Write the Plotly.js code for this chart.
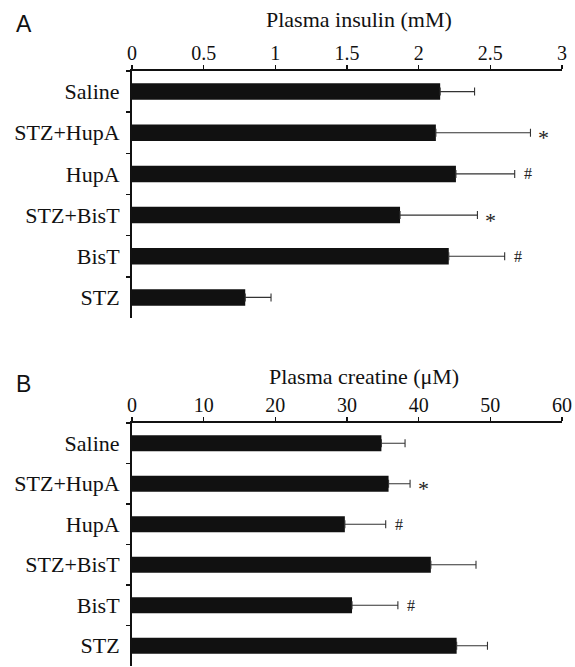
<!DOCTYPE html>
<html>
<head>
<meta charset="utf-8">
<script src="https://cdn.plot.ly/plotly-3.0.1.min.js"></script>
<style>html,body{margin:0;padding:0;background:#fff;}#chart{width:575px;height:667px;}</style>
</head>
<body>
<div id="chart"></div>
<script>
var categories = ['Saline', 'STZ+HupA', 'HupA', 'STZ+BisT', 'BisT', 'STZ'];
var insulin = [2.15, 2.12, 2.26, 1.87, 2.21, 0.79];
var insulinErr = [0.24, 0.66, 0.41, 0.54, 0.39, 0.18];
var insulinMarks = ['', '*', '#', '*', '#', ''];
var creatine = [34.8, 35.8, 29.7, 41.7, 30.7, 45.3];
var creatineErr = [3.3, 3.0, 5.7, 6.3, 6.4, 4.3];
var creatineMarks = ['', '*', '#', '', '#', ''];
var insulinTicks = [0, 0.5, 1, 1.5, 2, 2.5, 3];
var creatineTicks = [0, 10, 20, 30, 40, 50, 60];

var serif = 'Liberation Serif, Times New Roman, serif';
var W = 575, H = 667;
var xDom = [132 / W, 562 / W];

function barTrace(vals, errs, xa, ya) {
  return {
    type: 'bar', orientation: 'h', x: vals, y: categories, xaxis: xa, yaxis: ya,
    width: 0.4, marker: {color: '#111111', line: {width: 0}},
    error_x: {type: 'data', symmetric: false, array: errs, arrayminus: errs.map(function(){return 0;}),
              color: '#333333', thickness: 1.1, width: 4},
    hoverinfo: 'none', showlegend: false
  };
}

function markAnns(vals, errs, marks, xa, ya) {
  var out = [];
  for (var i = 0; i < categories.length; i++) {
    if (!marks[i]) continue;
    var star = marks[i] === '*';
    out.push({
      xref: xa, yref: ya, x: vals[i] + errs[i], y: categories[i],
      text: marks[i], showarrow: false, xanchor: 'center', yanchor: 'middle',
      xshift: 13, yshift: star ? -5 : 0,
      font: {family: serif, size: star ? 22 : 16, color: '#222'}
    });
  }
  return out;
}

function titleAnn(text, x, y) {
  return {xref: 'paper', yref: 'paper', x: x / W, y: 1 - y / H, text: text, showarrow: false,
          xanchor: 'center', yanchor: 'middle', font: {family: serif, size: 22, color: '#111'}};
}

function xAxis(ticks, anchor) {
  return {
    domain: xDom, anchor: anchor, side: 'top', range: [ticks[0], ticks[ticks.length - 1]],
    tickvals: ticks, ticktext: ticks.map(String),
    ticks: 'outside', ticklen: 4, tickwidth: 1.5, tickcolor: '#111',
    showline: true, linewidth: 2, linecolor: '#111', showgrid: false, zeroline: false,
    tickfont: {family: serif, size: 20, color: '#111'}, ticklabelstandoff: -3
  };
}

function yAxis(anchor, dom) {
  return {
    domain: dom, anchor: anchor, type: 'category', categoryorder: 'array', categoryarray: categories,
    range: [5.5, -0.5], tickson: 'boundaries', ticks: 'outside', ticklen: 4, tickwidth: 1.5, tickcolor: '#111',
    showline: true, linewidth: 2, linecolor: '#111', showgrid: false, zeroline: false,
    tickfont: {family: serif, size: 22, color: '#111'}, ticklabelstandoff: 6
  };
}

var data = [
  barTrace(insulin, insulinErr, 'x', 'y'),
  barTrace(creatine, creatineErr, 'x2', 'y2')
];

var layout = {
  width: W, height: H,
  margin: {l: 0, r: 0, t: 0, b: 0},
  paper_bgcolor: '#fff', plot_bgcolor: '#fff',
  xaxis: xAxis(insulinTicks, 'y'),
  yaxis: yAxis('x', [1 - 318 / H, 1 - 71 / H]),
  xaxis2: xAxis(creatineTicks, 'y2'),
  yaxis2: yAxis('x2', [1 - 666 / H, 1 - 423 / H]),
  annotations: [].concat(
    markAnns(insulin, insulinErr, insulinMarks, 'x', 'y'),
    markAnns(creatine, creatineErr, creatineMarks, 'x2', 'y2'),
    [
      titleAnn('Plasma insulin (mM)', 359, 19),
      titleAnn('Plasma creatine (μM)', 364, 377),
      {xref: 'paper', yref: 'paper', x: 14 / W, y: 1 - 24 / H, text: 'A', showarrow: false,
       xanchor: 'left', yanchor: 'middle', font: {family: 'Liberation Sans, Arial, sans-serif', size: 23, color: '#111'}},
      {xref: 'paper', yref: 'paper', x: 14 / W, y: 1 - 384 / H, text: 'B', showarrow: false,
       xanchor: 'left', yanchor: 'middle', font: {family: 'Liberation Sans, Arial, sans-serif', size: 23, color: '#111'}}
    ]
  )
};

Plotly.newPlot('chart', data, layout, {displayModeBar: false, staticPlot: true});
</script>
</body>
</html>
